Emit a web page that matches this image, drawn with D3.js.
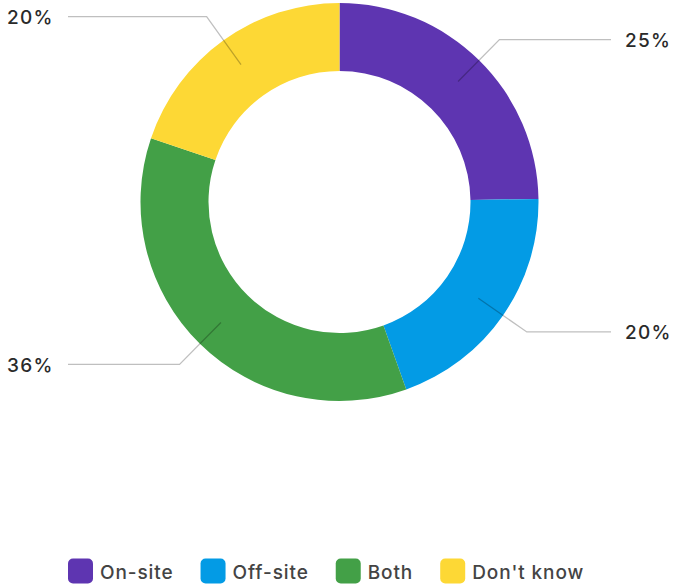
<!DOCTYPE html>
<html>
<head>
<meta charset="utf-8">
<script src="https://cdn.jsdelivr.net/npm/d3@7"></script>
<style>
  html, body { margin: 0; padding: 0; background: #fff; }
  svg { display: block; font-family: Inter, "Noto Sans", sans-serif; }
</style>
</head>
<body>
<svg id="chart" width="676" height="586"></svg>
<script>
// Share of responses by location
const categories = ["On-site", "Off-site", "Both", "Don't know"];
const shares = [25, 20, 36, 20];
const colors = ["#5e35b1", "#039be5", "#43a047", "#fdd835"];

const W = 676, H = 586;
const cx = 339.5, cy = 202;
const outerR = 199, innerR = 131;
const labelR = 169, elbowR = 228;
const lineRightX = 611, lineLeftX = 68;

const svg = d3.select("#chart");
const g = svg.append("g").attr("transform", `translate(${cx},${cy})`);

const data = categories.map((c, i) => ({ name: c, value: shares[i], color: colors[i] }));
const pie = d3.pie().value(d => d.value).sort(null);
const arcs = pie(data);

const arc = d3.arc().innerRadius(innerR).outerRadius(outerR);
const midArc = d3.arc().innerRadius(labelR).outerRadius(labelR);
const elbowArc = d3.arc().innerRadius(elbowR).outerRadius(elbowR);

g.selectAll("path.slice")
  .data(arcs)
  .join("path")
  .attr("class", "slice")
  .attr("d", arc)
  .attr("fill", d => d.data.color);

// Leader lines and percentage labels
const midAngle = d => (d.startAngle + d.endAngle) / 2;
const isRight = d => midAngle(d) < Math.PI;

g.selectAll("polyline.leader")
  .data(arcs)
  .join("polyline")
  .attr("class", "leader")
  .attr("fill", "none")
  .attr("stroke", "rgba(0,0,0,0.25)")
  .attr("stroke-width", 1.3)
  .attr("points", d => {
    const p0 = midArc.centroid(d);
    const p1 = elbowArc.centroid(d);
    const x2 = (isRight(d) ? lineRightX : lineLeftX) - cx;
    return [p0, p1, [x2, p1[1]]].map(p => p.join(",")).join(" ");
  });

g.selectAll("text.pct")
  .data(arcs)
  .join("text")
  .attr("class", "pct")
  .attr("x", d => isRight(d) ? lineRightX + 14 - cx : 7 - cx)
  .attr("y", d => elbowArc.centroid(d)[1] + 1)
  .attr("text-anchor", "start")
  .attr("dominant-baseline", "central")
  .attr("font-size", 19)
  .attr("font-weight", 500)
  .attr("letter-spacing", 1.3)
  .attr("fill", "#2a2a2a")
  .text(d => d.data.value + "%");

// Legend
const legend = svg.append("g").attr("transform", "translate(68,571)");
let x = 0;
data.forEach(d => {
  const item = legend.append("g").attr("transform", `translate(${x},0)`);
  item.append("rect")
    .attr("x", 0).attr("y", -12.5)
    .attr("width", 25).attr("height", 25)
    .attr("rx", 5).attr("ry", 5)
    .attr("fill", d.color);
  const t = item.append("text")
    .attr("x", 32).attr("y", 1)
    .attr("dominant-baseline", "central")
    .attr("font-size", 19)
    .attr("font-weight", 500)
    .attr("letter-spacing", 0.9)
    .attr("fill", "#444")
    .text(d.name);
  x += 32 + t.node().getComputedTextLength() + 27;
});
</script>
</body>
</html>
